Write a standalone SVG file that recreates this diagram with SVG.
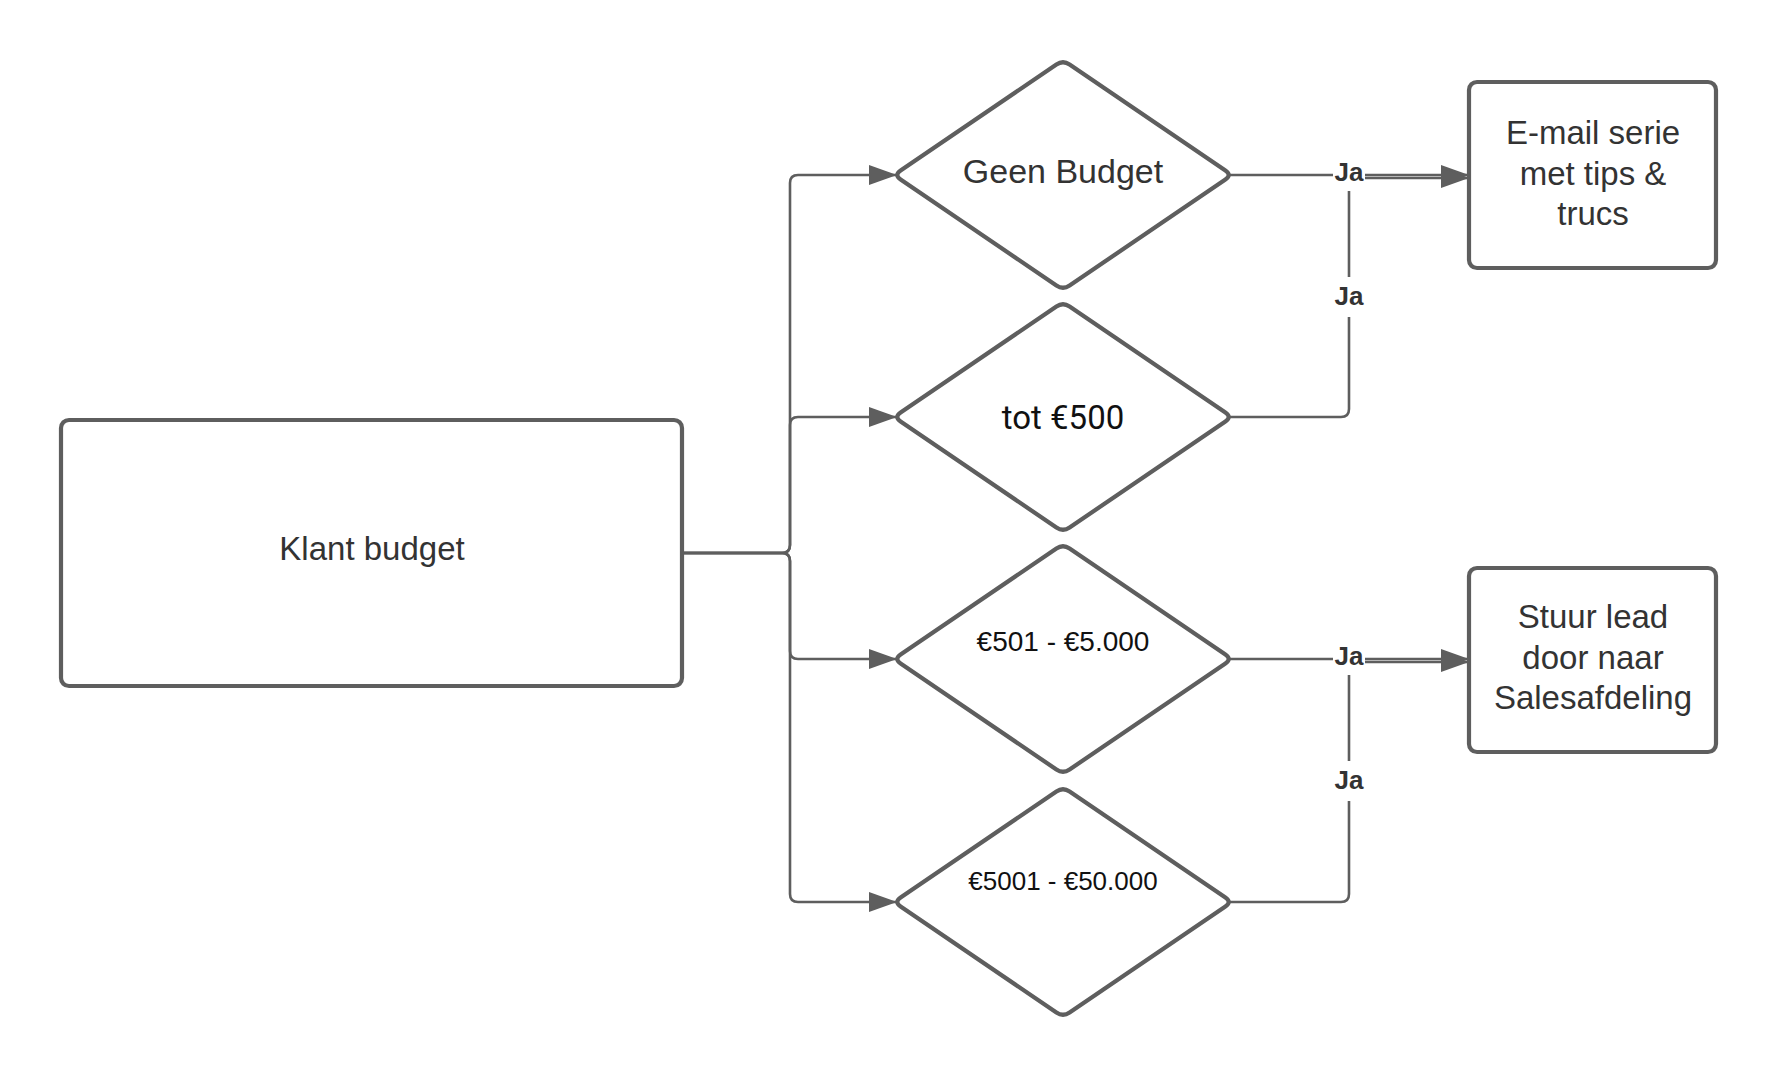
<svg xmlns="http://www.w3.org/2000/svg" width="1780" height="1080" viewBox="0 0 1780 1080">
<style>
.shape{fill:#ffffff;stroke:#5e5e5e;stroke-width:4.2;stroke-linejoin:round}
.conn{fill:none;stroke:#5e5e5e;stroke-width:2.6}
.t{font-family:"Liberation Sans",Arial,sans-serif;fill:#333333;text-anchor:middle;dominant-baseline:central}
.lbl{font-family:"Liberation Sans",Arial,sans-serif;font-weight:bold;font-size:26px;fill:#333333;text-anchor:middle;dominant-baseline:central}
.bg{fill:#ffffff}
</style>
<defs>
<marker id="arr" markerUnits="userSpaceOnUse" markerWidth="30" markerHeight="22" refX="28" refY="11" orient="auto">
<path d="M0,1 L28,11 L0,21 z" fill="#5e5e5e"/>
</marker>
<path id="dia" d="M-162.4,-4.5 L-6.6,-110.5 Q0,-115 6.6,-110.5 L162.4,-4.5 Q169,0 162.4,4.5 L6.6,110.5 Q0,115 -6.6,110.5 L-162.4,4.5 Q-169,0 -162.4,-4.5 Z"/>
</defs>
<rect width="1780" height="1080" fill="#ffffff"/>
<g id="connectors">
<path class="conn" d="M682,553 H782 Q790,553 790,545 V183 Q790,175 798,175 H897" marker-end="url(#arr)"/>
<path class="conn" d="M682,553 H782 Q790,553 790,545 V425 Q790,417 798,417 H897" marker-end="url(#arr)"/>
<path class="conn" d="M682,553 H782 Q790,553 790,561 V651 Q790,659 798,659 H897" marker-end="url(#arr)"/>
<path class="conn" d="M682,553 H782 Q790,553 790,561 V894 Q790,902 798,902 H897" marker-end="url(#arr)"/>
<path class="conn" d="M1229,175 H1469" marker-end="url(#arr)"/>
<path class="conn" d="M1229,417 H1341 Q1349,417 1349,409 V186 Q1349,178 1357,178 H1469" marker-end="url(#arr)"/>
<path class="conn" d="M1229,659 H1469" marker-end="url(#arr)"/>
<path class="conn" d="M1229,902 H1341 Q1349,902 1349,894 V670 Q1349,662 1357,662 H1469" marker-end="url(#arr)"/>
<g id="label-ja-1"><rect class="bg" x="1333" y="159" width="32" height="32"/><text class="lbl" x="1349" y="172">Ja</text></g>
<g id="label-ja-2"><rect class="bg" x="1333" y="277" width="32" height="40"/><text class="lbl" x="1349" y="296">Ja</text></g>
<g id="label-ja-3"><rect class="bg" x="1333" y="643" width="32" height="32"/><text class="lbl" x="1349" y="656">Ja</text></g>
<g id="label-ja-4"><rect class="bg" x="1333" y="761" width="32" height="40"/><text class="lbl" x="1349" y="780">Ja</text></g>
</g>
<g id="klant-budget">
<rect class="shape" x="61" y="420" width="621" height="266" rx="8"/>
<text class="t" x="372" y="548" font-size="33">Klant budget</text>
</g>
<g id="geen-budget">
<use href="#dia" class="shape" transform="translate(1063,175)"/>
<text class="t" x="1063" y="171" font-size="34">Geen Budget</text>
</g>
<g id="tot-500">
<use href="#dia" class="shape" transform="translate(1063,417)"/>
<text class="t" x="1063" y="417" font-size="33" style="font-family:Roboto,'Liberation Sans',sans-serif;fill:#111">tot €500</text>
</g>
<g id="501-5000">
<use href="#dia" class="shape" transform="translate(1063,659)"/>
<text class="t" x="1063" y="641" font-size="28" style="fill:#111">€501 - €5.000</text>
</g>
<g id="5001-50000">
<use href="#dia" class="shape" transform="translate(1063,902)"/>
<text class="t" x="1063" y="881" font-size="26" style="fill:#111">€5001 - €50.000</text>
</g>
<g id="email-serie">
<rect class="shape" x="1469" y="82" width="247" height="186" rx="8"/>
<text class="t" x="1593" y="132" font-size="33">E-mail serie</text>
<text class="t" x="1593" y="173" font-size="33">met tips &amp;</text>
<text class="t" x="1593" y="213" font-size="33">trucs</text>
</g>
<g id="stuur-lead">
<rect class="shape" x="1469" y="568" width="247" height="184" rx="8"/>
<text class="t" x="1593" y="616" font-size="33">Stuur lead</text>
<text class="t" x="1593" y="657" font-size="33">door naar</text>
<text class="t" x="1593" y="697" font-size="33">Salesafdeling</text>
</g>
</svg>
